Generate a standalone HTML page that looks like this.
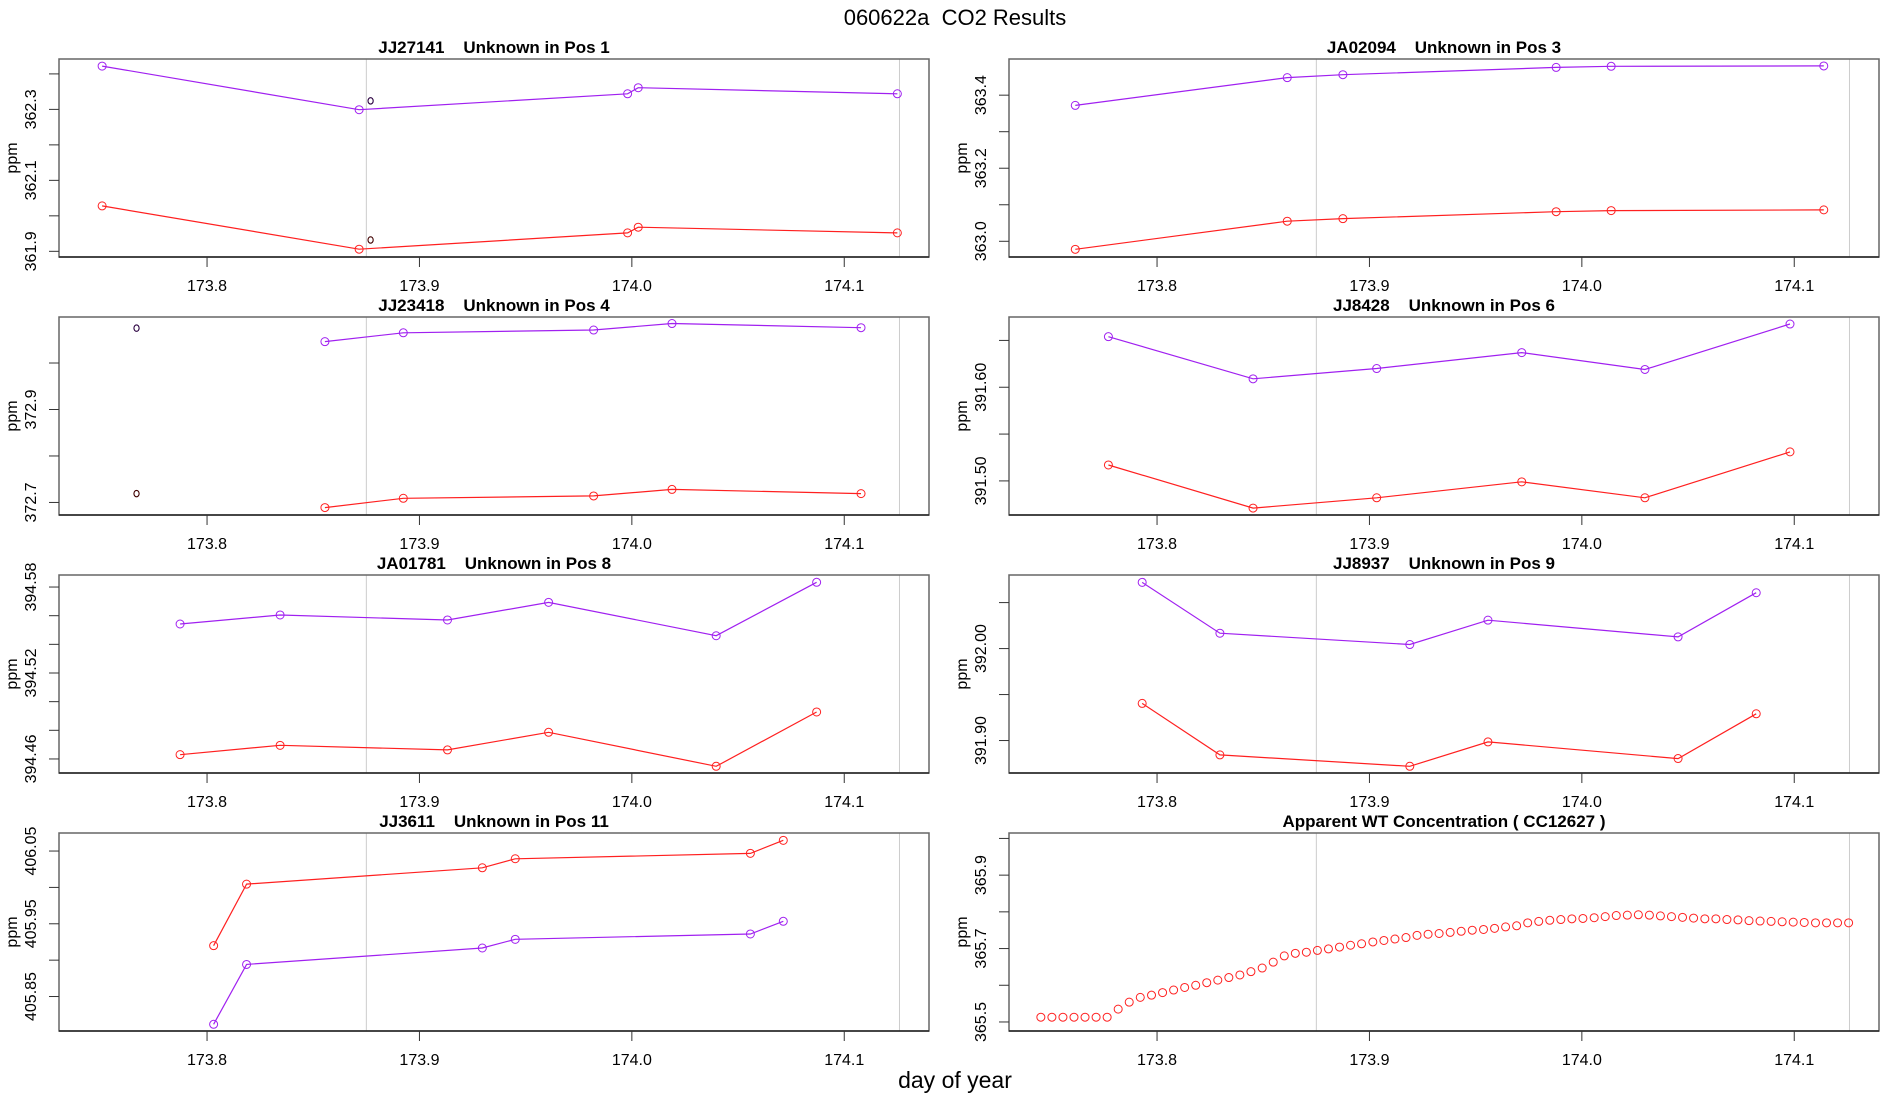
<!DOCTYPE html>
<html><head><meta charset="utf-8"><title>060622a CO2 Results</title>
<style>
html,body{margin:0;padding:0;background:#fff;}
svg{display:block;font-family:"Liberation Sans",sans-serif;}
text.pre{white-space:pre;}
</style></head>
<body>
<svg id="chart" width="1900" height="1100" viewBox="0 0 1900 1100" xmlns="http://www.w3.org/2000/svg">
<text class="pre" style="white-space:pre" x="955" y="25" font-size="22" text-anchor="middle">060622a  CO2 Results</text>
<text x="955" y="1088" font-size="23" text-anchor="middle">day of year</text>
</svg>
<script>
// ---- data ----
const xTicks = [173.8, 173.9, 174.0, 174.1];
const xTickLabels = ["173.8", "173.9", "174.0", "174.1"];
const refLines = [173.875, 174.126];

const p1_x = [173.7506, 173.8716, 173.998, 174.003, 174.125];
const p1_purple = [362.422, 362.299, 362.344, 362.361, 362.344];
const p1_red = [362.028, 361.906, 361.952, 361.968, 361.952];
const p1_extraX = [173.877];
const p1_extraPurple = [362.324];
const p1_extraRed = [361.932];

const p2_x = [173.7615, 173.8613, 173.8875, 173.9879, 174.0138, 174.1139];
const p2_purple = [363.372, 363.448, 363.456, 363.476, 363.479, 363.480];
const p2_red = [362.978, 363.055, 363.062, 363.081, 363.084, 363.086];

const p3_x = [173.8555, 173.8924, 173.9820, 174.0189, 174.1079];
const p3_purple = [373.046, 373.065, 373.071, 373.085, 373.076];
const p3_red = [372.689, 372.709, 372.714, 372.728, 372.719];
const p3_extraX = [173.7668];
const p3_extraPurple = [373.075];
const p3_extraRed = [372.719];

const p4_x = [173.7771, 173.8452, 173.9034, 173.9717, 174.0297, 174.0980];
const p4_purple = [391.654, 391.609, 391.620, 391.637, 391.619, 391.6675];
const p4_red = [391.517, 391.471, 391.482, 391.499, 391.482, 391.531];

const p5_x = [173.7873, 173.8344, 173.9132, 173.9608, 174.0397, 174.0870];
const p5_purple = [394.5542, 394.5605, 394.5570, 394.5693, 394.5460, 394.5833];
const p5_red = [394.4630, 394.4695, 394.4663, 394.4786, 394.4549, 394.4928];

const p6_x = [173.7930, 173.8296, 173.9190, 173.9558, 174.0453, 174.0821];
const p6_purple = [392.072, 392.0167, 392.0044, 392.0309, 392.0127, 392.0607];
const p6_red = [391.9404, 391.8844, 391.8720, 391.8985, 391.8804, 391.9291];

const p7_x = [173.8031, 173.8186, 173.9296, 173.9451, 174.0558, 174.0713];
const p7_purple = [405.8118, 405.8941, 405.9167, 405.9286, 405.9360, 405.9534];
const p7_red = [405.9199, 406.0045, 406.0270, 406.0394, 406.0468, 406.0647];

const p8_x = [173.7453,173.7505,173.7557,173.7609,173.7661,173.7713,173.7765,173.7817,173.7869,173.7921,
173.7974,173.8026,173.8078,173.8130,173.8182,173.8234,173.8286,173.8338,173.8390,173.8442,
173.8495,173.8547,173.8599,173.8651,173.8703,173.8755,173.8807,173.8859,173.8911,173.8963,
173.9016,173.9068,173.9120,173.9172,173.9224,173.9276,173.9328,173.9380,173.9432,173.9484,
173.9537,173.9589,173.9641,173.9693,173.9745,173.9797,173.9849,173.9901,173.9953,174.0005,
174.0058,174.0110,174.0162,174.0214,174.0266,174.0318,174.0370,174.0422,174.0474,174.0526,
174.0579,174.0631,174.0683,174.0735,174.0787,174.0839,174.0891,174.0943,174.0995,174.1047,
174.1100,174.1152,174.1204,174.1256];
const p8_red = [365.513,365.513,365.513,365.513,365.513,365.513,365.513,365.535,365.554,365.567,
365.573,365.580,365.587,365.594,365.600,365.607,365.614,365.621,365.628,365.637,
365.647,365.663,365.680,365.687,365.690,365.695,365.699,365.704,365.709,365.713,
365.718,365.722,365.726,365.730,365.736,365.739,365.741,365.744,365.747,365.750,
365.752,365.755,365.759,365.762,365.770,365.774,365.777,365.779,365.781,365.782,
365.784,365.787,365.790,365.791,365.792,365.791,365.789,365.787,365.785,365.783,
365.781,365.781,365.779,365.778,365.776,365.775,365.774,365.773,365.772,365.771,
365.770,365.770,365.770,365.770];

const p1_ticks = [361.9, 362.0, 362.1, 362.2, 362.3, 362.4];
const p1_tickLabels = ["361.9", "", "362.1", "", "362.3", ""];
const p2_ticks = [363.0, 363.1, 363.2, 363.3, 363.4];
const p2_tickLabels = ["363.0", "", "363.2", "", "363.4"];
const p3_ticks = [372.7, 372.8, 372.9, 373.0];
const p3_tickLabels = ["372.7", "", "372.9", ""];
const p4_ticks = [391.50, 391.55, 391.60, 391.65];
const p4_tickLabels = ["391.50", "", "391.60", ""];
const p5_ticks = [394.46, 394.48, 394.50, 394.52, 394.54, 394.56, 394.58];
const p5_tickLabels = ["394.46", "", "", "394.52", "", "", "394.58"];
const p6_ticks = [391.90, 391.95, 392.00, 392.05];
const p6_tickLabels = ["391.90", "", "392.00", ""];
const p7_ticks = [405.85, 405.90, 405.95, 406.00, 406.05];
const p7_tickLabels = ["405.85", "", "405.95", "", "406.05"];
const p8_ticks = [365.5, 365.6, 365.7, 365.8, 365.9, 366.0];
const p8_tickLabels = ["365.5", "", "365.7", "", "365.9", ""];

const panelTitles = ["JJ27141    Unknown in Pos 1", "JA02094    Unknown in Pos 3",
  "JJ23418    Unknown in Pos 4", "JJ8428    Unknown in Pos 6",
  "JA01781    Unknown in Pos 8", "JJ8937    Unknown in Pos 9",
  "JJ3611    Unknown in Pos 11", "Apparent WT Concentration ( CC12627 )"];
const panelYMin = [361.884, 362.957, 372.673, 391.4636, 394.4502, 391.8647, 405.8026, 365.4754];
const panelYMax = [362.442, 363.499, 373.099, 391.675, 394.5884, 392.080, 406.0748, 366.0148];

// ---- layout ----
const NS = "http://www.w3.org/2000/svg";
const svg = document.getElementById("chart");
const XMIN = 173.7303, XMAX = 174.1399;
const colLeft = [59, 1009], W = 870;
const rowTop = [59, 317, 575, 833], H = 198;
const PURPLE = "#A020F0", RED = "#FF2020";

function mk(tag, attrs, parent) {
  const e = document.createElementNS(NS, tag);
  for (const k in attrs) e.setAttribute(k, attrs[k]);
  (parent || svg).appendChild(e);
  return e;
}

const panels = [
  {x: p1_x, series: [[p1_purple, PURPLE, 'purple'], [p1_red, RED, 'red']], ticks: p1_ticks, labels: p1_tickLabels, extra: [p1_extraX, p1_extraPurple, p1_extraRed]},
  {x: p2_x, series: [[p2_purple, PURPLE, 'purple'], [p2_red, RED, 'red']], ticks: p2_ticks, labels: p2_tickLabels},
  {x: p3_x, series: [[p3_purple, PURPLE, 'purple'], [p3_red, RED, 'red']], ticks: p3_ticks, labels: p3_tickLabels, extra: [p3_extraX, p3_extraPurple, p3_extraRed]},
  {x: p4_x, series: [[p4_purple, PURPLE, 'purple'], [p4_red, RED, 'red']], ticks: p4_ticks, labels: p4_tickLabels},
  {x: p5_x, series: [[p5_purple, PURPLE, 'purple'], [p5_red, RED, 'red']], ticks: p5_ticks, labels: p5_tickLabels},
  {x: p6_x, series: [[p6_purple, PURPLE, 'purple'], [p6_red, RED, 'red']], ticks: p6_ticks, labels: p6_tickLabels},
  {x: p7_x, series: [[p7_purple, PURPLE, 'purple'], [p7_red, RED, 'red']], ticks: p7_ticks, labels: p7_tickLabels},
  {x: p8_x, series: [[p8_red, RED, 'red']], ticks: p8_ticks, labels: p8_tickLabels, noLine: true}
];

panels.forEach((p, i) => {
  const L = colLeft[i % 2], T = rowTop[Math.floor(i / 2)];
  const ymin = panelYMin[i], ymax = panelYMax[i];
  const sx = v => L + (v - XMIN) / (XMAX - XMIN) * W;
  const sy = v => T + H - (v - ymin) / (ymax - ymin) * H;
  const g = mk('g', {});
  
  

  const t = mk('text', {x: L + W / 2, y: T - 6, 'font-size': 17, 'font-weight': 'bold', 'text-anchor': 'middle', style: 'white-space:pre'}, g);
  
  
  t.textContent = panelTitles[i];

  refLines.forEach(r => {
    const l = mk('line', {x1: sx(r), x2: sx(r), y1: T, y2: T + H, stroke: '#cccccc', 'stroke-width': 1}, g);
    
    
  });

  const fr = mk('rect', {x: L, y: T, width: W, height: H, fill: 'none', stroke: '#666', 'stroke-width': 1.5}, g);
  
  
  const bl = mk('line', {x1: L, x2: L + W, y1: T + H, y2: T + H, stroke: '#222', 'stroke-width': 1.5}, g);
  
  

  xTicks.forEach((v, k) => {
    const tk = mk('line', {x1: sx(v), x2: sx(v), y1: T + H, y2: T + H + 10, stroke: '#333', 'stroke-width': 1}, g);
    
    
    const tl = mk('text', {x: sx(v), y: T + H + 34, 'font-size': 16, 'text-anchor': 'middle'}, g);
    
    
    tl.textContent = xTickLabels[k];
  });

  p.ticks.forEach((v, k) => {
    const y = sy(v);
    if (y < T - 0.5 || y > T + H + 0.5) return;
    const tk = mk('line', {x1: L - 10, x2: L, y1: y, y2: y, stroke: '#333', 'stroke-width': 1}, g);
    
    
    if (p.labels[k]) {
      const tl = mk('text', {x: 0, y: 0, 'font-size': 16, 'text-anchor': 'middle', transform: `translate(${L - 23},${y}) rotate(-90)`}, g);
      
      
      tl.textContent = p.labels[k];
    }
  });

  const yl = mk('text', {x: 0, y: 0, 'font-size': 16, 'text-anchor': 'middle', transform: `translate(${L - 42},${T + H / 2}) rotate(-90)`}, g);
  
  
  yl.textContent = 'ppm';

  p.series.forEach(([vals, col, nm]) => {
    if (!p.noLine) {
      const pts = vals.map((v, k) => sx(p.x[k]).toFixed(1) + ',' + sy(v).toFixed(1)).join(' ');
      const pl = mk('polyline', {points: pts, fill: 'none', stroke: col, 'stroke-width': 1.2}, g);
      
      
    }
    vals.forEach((v, k) => {
      const c = mk('circle', {cx: sx(p.x[k]), cy: sy(v), r: 4, fill: 'none', stroke: col, 'stroke-width': 1}, g);
      
      
    });
  });

  if (p.extra) {
    const [ex, ep, er] = p.extra;
    ex.forEach((xv, k) => {
      [[ep[k], '#2a0040'], [er[k], '#400000']].forEach(([v, col]) => {
        const c = mk('ellipse', {cx: sx(xv), cy: sy(v), rx: 2.6, ry: 3.2, fill: 'none', stroke: col, 'stroke-width': 1.1}, g);
        
        
      });
    });
  }
});
</script>
</body></html>
